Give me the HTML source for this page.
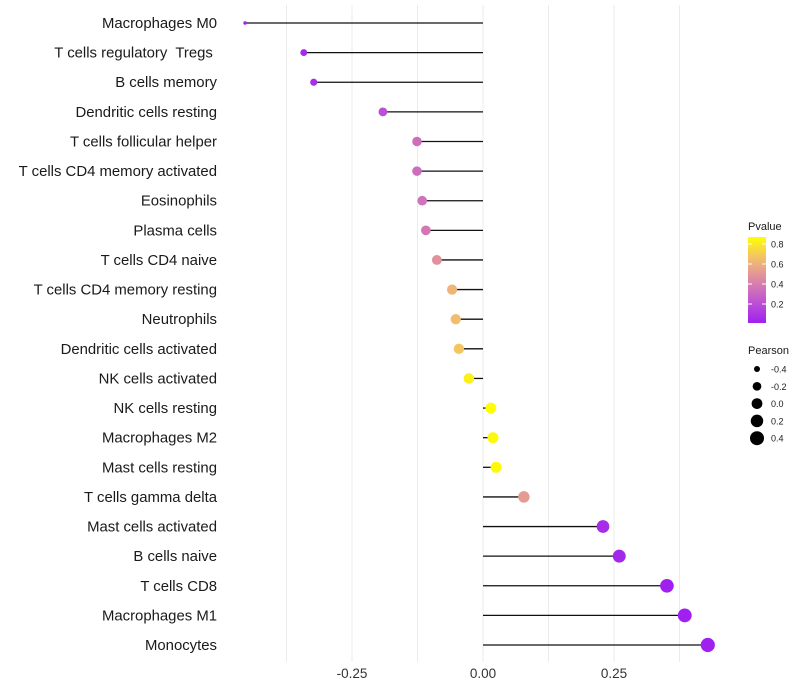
<!DOCTYPE html>
<html><head><meta charset="utf-8"><style>
body{margin:0;background:#fff;font-family:"Liberation Sans",sans-serif}
svg{display:block}
text{white-space:pre}
</style></head><body>
<svg id="c" width="800" height="700"></svg>
<script>
const categories=["Macrophages M0","T cells regulatory  Tregs ","B cells memory","Dendritic cells resting","T cells follicular helper","T cells CD4 memory activated","Eosinophils","Plasma cells","T cells CD4 naive","T cells CD4 memory resting","Neutrophils","Dendritic cells activated","NK cells activated","NK cells resting","Macrophages M2","Mast cells resting","T cells gamma delta","Mast cells activated","B cells naive","T cells CD8","Macrophages M1","Monocytes"];
const pearson=[-0.454,-0.342,-0.323,-0.191,-0.126,-0.126,-0.116,-0.109,-0.088,-0.059,-0.052,-0.046,-0.027,0.015,0.019,0.025,0.078,0.229,0.260,0.351,0.385,0.429];
const pvalues=[0.02,0.05,0.07,0.2,0.33,0.33,0.35,0.37,0.48,0.62,0.65,0.68,0.82,0.87,0.85,0.85,0.52,0.06,0.04,0.01,0.01,0.01];
const xTicks=[-0.25,0,0.25];
const xTickLabels=["-0.25","0.00","0.25"];
const pTicks=[0.2,0.4,0.6,0.8];
const sizeTicks=[-0.4,-0.2,0.0,0.2,0.4];

const NS="http://www.w3.org/2000/svg";
const svg=document.getElementById('c');
function mk(t,a,p){const e=document.createElementNS(NS,t);for(const k in a)e.setAttribute(k,a[k]);(p||svg).appendChild(e);return e;}
const x=v=>483+v*524;
const y=i=>23+i*29.62;
const r=v=>v<-0.44?1.8:Math.sqrt(Math.max(1,29+50*v));
const pMin=0.01,pMax=0.87;
const stops=[[0,[160,32,240]],[0.25,[190,85,210]],[0.5,[220,135,165]],[0.75,[242,190,110]],[1,[255,255,0]]];
function col(p){let t=Math.max(0,Math.min(1,(p-pMin)/(pMax-pMin)));for(let i=1;i<stops.length;i++){if(t<=stops[i][0]){const a=stops[i-1],b=stops[i];const f=(t-a[0])/(b[0]-a[0]);return 'rgb('+a[1].map((c,j)=>Math.round(c+(b[1][j]-c)*f)).join(',')+')';}}return 'rgb(255,255,0)';}

for(let g=-0.375;g<=0.4;g+=0.125){const l=mk('line',{x1:x(g),x2:x(g),y1:5,y2:662,stroke:'#ebebeb','stroke-width':1});
}
categories.forEach((c,i)=>{
 const t=mk('text',{x:217,y:y(i)+5,'text-anchor':'end','font-size':14.9,fill:'#1a1a1a'});t.textContent=c;
 
 const l=mk('line',{x1:x(0),x2:x(pearson[i]),y1:y(i),y2:y(i),stroke:'#111','stroke-width':1.3});
 
 const d=mk('circle',{cx:x(pearson[i]),cy:y(i),r:r(pearson[i]),fill:col(pvalues[i])});
 
});
xTicks.forEach((v,i)=>{const t=mk('text',{x:x(v),y:678,'text-anchor':'middle','font-size':13.5,fill:'#333'});t.textContent=xTickLabels[i];
 });
let tt=mk('text',{x:748,y:230,'font-size':11,fill:'#1a1a1a'});tt.textContent='Pvalue';

const defs=mk('defs',{});const lg=mk('linearGradient',{id:'pg',x1:0,y1:1,x2:0,y2:0},defs);
for(let k=0;k<=10;k++){mk('stop',{offset:k/10,'stop-color':col(pMin+(pMax-pMin)*k/10)},lg);}
const cb=mk('rect',{x:748,y:237,width:18,height:86,fill:'url(#pg)'});

const py=p=>323-(p-pMin)/(pMax-pMin)*86;
pTicks.forEach(p=>{mk('line',{x1:748,x2:752,y1:py(p),y2:py(p),stroke:'#fff'});mk('line',{x1:762,x2:766,y1:py(p),y2:py(p),stroke:'#fff'});
 const t=mk('text',{x:771,y:py(p)+3.5,'font-size':9,fill:'#1a1a1a'});t.textContent=p.toFixed(1);
 });
tt=mk('text',{x:748,y:354,'font-size':11,fill:'#1a1a1a'});tt.textContent='Pearson';

sizeTicks.forEach((s,i)=>{const cy=369+i*17.3;
 const c=mk('circle',{cx:757,cy:cy,r:r(s),fill:'#000'});
 
 const t=mk('text',{x:771,y:cy+3.5,'font-size':9,fill:'#1a1a1a'});t.textContent=s.toFixed(1);
 });
</script>
</body></html>
